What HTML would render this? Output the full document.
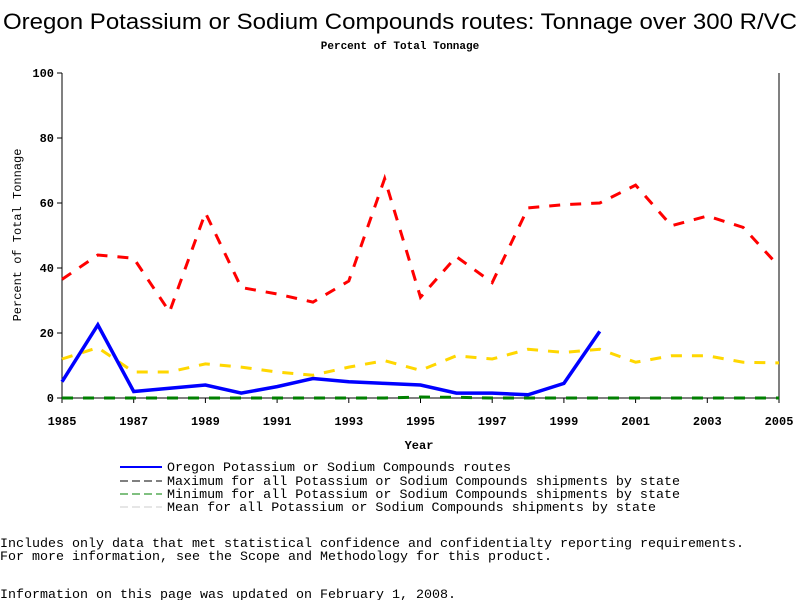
<!DOCTYPE html>
<html><head><meta charset="utf-8"><style>
body{margin:0;background:#fff;width:800px;height:600px;overflow:hidden}
svg{display:block}
text{font-family:"Liberation Mono",monospace}
</style></head><body>
<svg id="chart" width="800" height="600">
<text x="3" y="29" textLength="794" lengthAdjust="spacingAndGlyphs" style="font-family:'Liberation Sans',sans-serif" font-size="22">Oregon Potassium or Sodium Compounds routes: Tonnage over 300 R/VC</text>
<text x="400" y="49" text-anchor="middle" font-size="11" font-weight="bold">Percent of Total Tonnage</text>
<g id="axes"></g>
<g id="series"></g>
<text x="419" y="449" text-anchor="middle" font-size="12" font-weight="bold">Year</text>
<text transform="translate(21,235) rotate(-90)" text-anchor="middle" font-size="12">Percent of Total Tonnage</text>
<g font-size="13">
<g><line x1="120" y1="467" x2="162" y2="467" stroke="#0000ff" stroke-width="2"/><text x="167" y="471" textLength="344" lengthAdjust="spacingAndGlyphs">Oregon Potassium or Sodium Compounds routes</text></g>
<g><line x1="120" y1="481" x2="162" y2="481" stroke="#000" stroke-width="1" stroke-dasharray="8,4"/><text x="167" y="485" textLength="513" lengthAdjust="spacingAndGlyphs">Maximum for all Potassium or Sodium Compounds shipments by state</text></g>
<g><line x1="120" y1="494" x2="162" y2="494" stroke="#008000" stroke-width="1" stroke-dasharray="8,4"/><text x="167" y="498" textLength="513" lengthAdjust="spacingAndGlyphs">Minimum for all Potassium or Sodium Compounds shipments by state</text></g>
<g><line x1="120" y1="507" x2="162" y2="507" stroke="#ccc" stroke-width="1" stroke-dasharray="8,4"/><text x="167" y="511" textLength="489" lengthAdjust="spacingAndGlyphs">Mean for all Potassium or Sodium Compounds shipments by state</text></g>
</g>
<text x="0" y="547" font-size="13" textLength="744" lengthAdjust="spacingAndGlyphs">Includes only data that met statistical confidence and confidentialty reporting requirements.</text>
<text x="0" y="560" font-size="13" textLength="552" lengthAdjust="spacingAndGlyphs">For more information, see the Scope and Methodology for this product.</text>
<text x="0" y="598" font-size="13" textLength="456" lengthAdjust="spacingAndGlyphs">Information on this page was updated on February 1, 2008.</text>
</svg>
<script>
const years=[1985,1986,1987,1988,1989,1990,1991,1992,1993,1994,1995,1996,1997,1998,1999,2000,2001,2002,2003,2004,2005];
const maxVals=[36.5,44,43,26.5,57,34,32,29.5,36,67.5,31,43.5,35.5,58.5,59.5,60,65.5,53,56,52.5,40.5];
const meanVals=[12,15.5,8,8,10.5,9.5,8,7,9.5,11.5,8.5,13,12,15,14,15,11,13,13,11,10.8];
const minVals=[0,0,0,0,0,0,0,0,0,0,0.3,0.2,0,0,0,0,0,0,0,0,0];
const oregonVals=[5,22.5,2,3,4,1.5,3.5,6,5,4.5,4,1.5,1.5,1,4.5,20.5];
const xTicks=[1985,1987,1989,1991,1993,1995,1997,1999,2001,2003,2005];
const yTicks=[0,20,40,60,80,100];
const X0=62,X1=779,Y0=398,Y1=73;
const xs=v=>X0+(v-1985)/20*(X1-X0);
const ys=v=>Y0-v/100*(Y0-Y1);
const NS="http://www.w3.org/2000/svg";
const axes=document.getElementById('axes'),series=document.getElementById('series');
function mk(tag,attrs,parent){const e=document.createElementNS(NS,tag);for(const k in attrs)e.setAttribute(k,attrs[k]);parent.appendChild(e);return e;}
const frame=mk('path',{d:`M${X0},${Y1}V${Y0}H${X1}V${Y1}`,fill:'none',stroke:'#000','stroke-width':1},axes);


yTicks.forEach(t=>{
  const l=mk('line',{x1:X0-5,x2:X0,y1:ys(t),y2:ys(t),stroke:'#000'},axes);
  
  
  const tx=mk('text',{x:X0-8,y:ys(t)+4,'text-anchor':'end','font-size':12,'font-weight':'bold'},axes);
  tx.textContent=t;
  
  
});
xTicks.forEach(t=>{
  const l=mk('line',{x1:xs(t),x2:xs(t),y1:Y0,y2:Y0+5,stroke:'#000'},axes);
  
  
  const tx=mk('text',{x:xs(t),y:Y0+27,'text-anchor':'middle','font-size':12,'font-weight':'bold'},axes);
  tx.textContent=t;
  
  
});
function line(vals,color,w,dash,name){
  const d=vals.map((v,i)=>(i?'L':'M')+xs(years[i])+','+ys(v)).join('');
  const p=mk('path',{d:d,fill:'none',stroke:color,'stroke-width':w,'stroke-dasharray':dash||'none'},series);
  
  
}
line(minVals,'#008000',3,'11,10','minimum-line');
line(meanVals,'#ffd700',3,'11,10','mean-line');
line(maxVals,'#ff0000',3,'11,10','maximum-line');
line(oregonVals,'#0000ff',3.5,null,'oregon-line');
</script>
</body></html>
